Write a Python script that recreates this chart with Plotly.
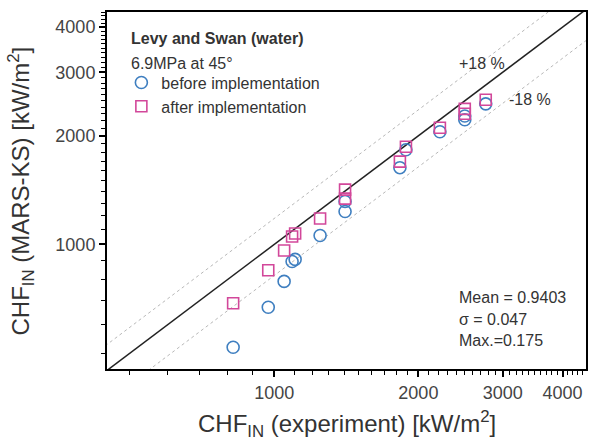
import plotly.graph_objects as go

# experiment CHF values shared by both series [kW/m2]
chf_exp = [821, 972, 1049, 1090, 1106, 1247, 1406, 1406, 1830, 1884, 2218, 2500, 2500, 2765]
# MARS-KS before implementation
chf_before = [519, 670, 790, 897, 909, 1059, 1234, 1315, 1632, 1829, 2052, 2215, 2270, 2452]
# MARS-KS after implementation
chf_after = [687, 848, 962, 1052, 1072, 1180, 1340, 1419, 1696, 1865, 2105, 2301, 2375, 2516]

ref_x = [300, 6000]
ref_factors = {'exact': 1.0, 'plus': 1.18, 'minus': 0.82}

major_ticks = [1000, 2000, 3000, 4000]
minor_ticks = list(range(500, 1000, 100)) + list(range(1100, 2000, 100)) + \
    list(range(2100, 3000, 100)) + list(range(3100, 4000, 100)) + [4100, 4200, 4300, 4400]

BLUE = '#3f7fc0'
PINK = '#d2479a'
FONT = 'Liberation Sans, Arial, sans-serif'

fig = go.Figure()

# +/-18 % band
for key in ['plus', 'minus']:
    fig.add_trace(go.Scatter(x=ref_x, y=[v * ref_factors[key] for v in ref_x], mode='lines',
                             line=dict(color='#b8b8b8', width=1, dash='dot'),
                             showlegend=False, hoverinfo='skip'))
fig.add_trace(go.Scatter(x=ref_x, y=[v * ref_factors['exact'] for v in ref_x], mode='lines',
                         line=dict(color='#222222', width=1.5), showlegend=False, hoverinfo='skip'))

fig.add_trace(go.Scatter(x=chf_exp, y=chf_before, mode='markers', name='before implementation',
                         marker=dict(symbol='circle-open', size=12, color=BLUE, line=dict(width=1.6))))
fig.add_trace(go.Scatter(x=chf_exp, y=chf_after, mode='markers', name='after implementation',
                         marker=dict(symbol='square-open', size=11, color=PINK, line=dict(width=1.6))))

axis_style = dict(type='log', showgrid=False, zeroline=False, showline=True, linecolor='black',
                  linewidth=2, mirror=True, ticks='outside', ticklen=6, tickwidth=1.5, tickcolor='black',
                  tickvals=major_ticks, ticktext=[str(v) for v in major_ticks],
                  tickfont=dict(size=18, color='#444444', family=FONT),
                  minor=dict(ticks='outside', ticklen=4, tickwidth=1, tickcolor='black', tickvals=minor_ticks))

fig.update_xaxes(range=[2.651, 3.651], **axis_style)
fig.update_yaxes(range=[2.655, 3.644], **axis_style)

fig.update_layout(
    width=589, height=447,
    margin=dict(l=107, r=1, t=12, b=78),
    plot_bgcolor='white', paper_bgcolor='white',
    font=dict(family=FONT, color='#333333'),
    legend=dict(x=0.03, y=0.85, xanchor='left', yanchor='top', bgcolor='rgba(0,0,0,0)',
                font=dict(size=16, color='#333333'), tracegroupgap=0, itemsizing='trace'),
)

notes = [
    dict(x=0.046, y=0.925, text='<b>Levy and Swan (water)</b>', size=16),
    dict(x=0.046, y=0.855, text='6.9MPa at 45°', size=16),
    dict(x=0.73, y=0.855, text='+18 %', size=16),
    dict(x=0.835, y=0.755, text='-18 %', size=16),
    dict(x=0.73, y=0.2, text='Mean = 0.9403', size=16),
    dict(x=0.73, y=0.14, text='σ = 0.047', size=16),
    dict(x=0.73, y=0.08, text='Max.=0.175', size=16),
]
for n in notes:
    fig.add_annotation(x=n['x'], y=n['y'], xref='paper', yref='paper', text=n['text'], showarrow=False,
                       xanchor='left', yanchor='middle', font=dict(size=n['size'], color='#333333', family=FONT))

fig.add_annotation(x=0.5, y=0, xref='paper', yref='paper', yanchor='top', yshift=-36, showarrow=False,
                   text='CHF<sub>IN</sub> (experiment) [kW/m<sup>2</sup>]',
                   font=dict(size=24, color='#333333', family=FONT))
fig.add_annotation(x=0, y=0.5, xref='paper', yref='paper', xanchor='right', xshift=-68, showarrow=False,
                   textangle=-90, text='CHF<sub>IN</sub> (MARS-KS) [kW/m<sup>2</sup>]',
                   font=dict(size=24, color='#333333', family=FONT))

# drop the default page margin so the figure sits at the window's top-left corner
fig.write_html('out.html', config={'displayModeBar': False},
               post_script="document.body.style.margin='0';")
